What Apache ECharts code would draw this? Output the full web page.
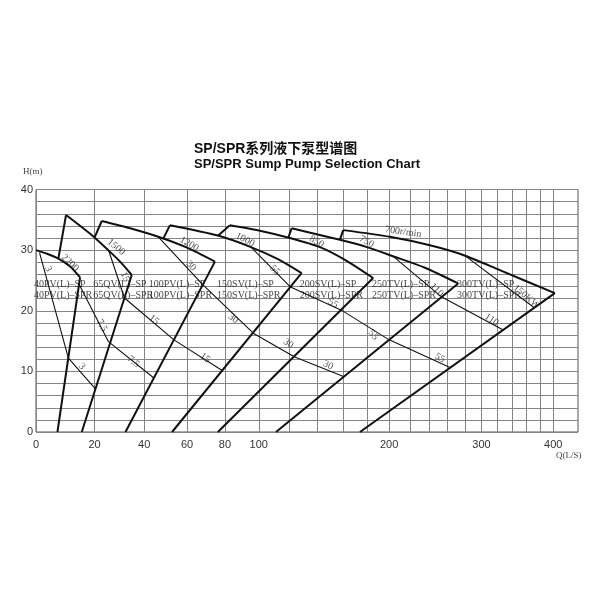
<!DOCTYPE html>
<html lang="zh-CN">
<head>
<meta charset="UTF-8">
<title>SP/SPR系列液下泵型谱图</title>
<style>html,body{margin:0;padding:0;background:#fff;}</style>
</head>
<body>
<div id="main" style="width:600px;height:600px;"></div>
<script src="https://cdn.jsdelivr.net/npm/echarts@6/dist/echarts.min.js"></script>
<script>
// Q 轴不是等距的，大致按 ln(1+Q/100) 排布，先换算再交给数值轴
function tq(q) { return Math.log(1 + q / 100); }
function qt(v) { return 100 * (Math.exp(v) - 1); }

var xGrid = [0,20,40,60,80,100,120,140,160,180,200,220,240,260,280,300,320,340,360,380,400];
var xLabels = [0,20,40,60,80,100,200,300,400];
var yLabels = [0,10,20,30,40];

// 各型号最高转速下的 H-Q 曲线 [Q(L/S), H(m)]
var curve40PV  = [[0,30],[3.5,29.4],[7.2,28.6],[11.2,27.3],[14.7,25.5]];
var curve65QV  = [[9.8,35.8],[18.9,32.5],[25.2,30],[29.9,28.1],[34.7,25.9]];
var curve100PV = [[22.7,34.8],[34,33.6],[46.3,32.2],[60,30.4],[74.5,28.1]];
var curve150SV = [[51.7,34.1],[76.1,32.4],[95.2,30.5],[112.3,28.5],[128.5,26.2]];
var curve200SV = [[82.8,34.1],[100.7,33.2],[120.3,32],[141.9,30.5],[161.5,28.4],[185.5,25.4]];
var curve250TV = [[121.5,33.6],[157.4,31.7],[180,30.5],[203.6,29],[235.4,27.1],[272,24.5]];
var curve300TV = [[160.1,33.3],[200.7,32.2],[240.6,30.8],[277.8,29.2],[323.4,26.7],[402.4,22.9]];

// 左边界（从前一型号曲线到本型号顶点）
var left65QV  = [[7.2,28.6],[9.8,35.8]];
var left100PV = [[20,32.1],[22.7,34.8]];
var left150SV = [[48.6,31.9],[51.7,34.1]];
var left200SV = [[76.3,32.4],[82.8,34.1]];
var left250TV = [[119.2,32],[121.5,33.6]];
var left300TV = [[157.4,31.7],[160.1,33.3]];

// 右边界（到 H=0）
var right40PV  = [[14.7,25.5],[6.9,0]];
var right65QV  = [[34.7,25.9],[15.3,0]];
var right100PV = [[74.5,28.1],[32.1,0]];
var right150SV = [[128.5,26.2],[52.7,0]];
var right200SV = [[185.5,25.4],[76.1,0]];
var right250TV = [[272,24.5],[111,0]];
var right300TV = [[402.4,22.9],[174,0]];

// 电机功率线 kW
var kw3   = [[1.1,29.6],[10.6,12.2],[20.3,7.1]];
var kw7_5 = [[14.3,24.4],[25.3,14.9],[44.3,8.9]];
var kw15  = [[25.4,29.9],[31.7,22.1],[53.6,15.2],[78.7,10.1]];
var kw30  = [[46.3,32.2],[68,24.3],[96.6,16.3],[123.3,12.4],[160.8,9.1]];
var kw55  = [[95.2,30.5],[120.8,23.9],[158.6,20.1],[200.1,15.2],[263.3,10.6]];
var kw110 = [[203.6,29],[253.1,22.3],[328.5,16.8]];
var kw150 = [[279.8,29.1],[371.4,20.5]];

// 曲线上的文字：[文字, Q, H, 旋转角]
var lineNotes = [
    ['2200', 11.2, 27.9, -42], ['1500', 28.3, 30.5, -40], ['1200', 61.1, 31.0, -30],
    ['1000', 91.6, 31.7, -28], ['850', 139.4, 31.4, -30], ['750', 179.7, 31.4, -30],
    ['700r/min', 213.5, 33.0, -8],
    ['3', 3.9, 26.9, -65], ['3', 15.3, 10.8, -50],
    ['15', 31.9, 25.6, -65], ['7.5', 22.7, 17.6, -62], ['7.5', 35.4, 11.6, -40],
    ['15', 44.3, 18.5, -40], ['15', 69.2, 12.2, -35],
    ['30', 62.0, 27.4, -45], ['30', 84.7, 18.7, -38], ['30', 119.2, 14.6, -35], ['30', 148.2, 11.0, -25],
    ['55', 110.3, 26.7, -45], ['55', 152.1, 21.2, -30], ['55', 185.5, 16.0, -50], ['55', 251.4, 12.2, -30],
    ['110', 247.8, 23.4, -45], ['110', 312.7, 18.5, -35], ['150KW', 360.1, 22.3, -40]
];

// 型号名称
var models = ['40PV', '65QV', '100PV', '150SV', '200SV', '250TV', '300TV'];
var modelQ = [-0.8, 19.3, 41.8, 75.4, 126.8, 184.1, 270.1];
var rowSP = 24.4, rowSPR = 22.6;

var myChart = echarts.init(document.getElementById('main'));

function toXY(arr) {
    return arr.map(function (p) { return [tq(p[0]), p[1]]; });
}
function line(arr, w, smooth) {
    return {
        type: 'line', data: toXY(arr), symbol: 'none', silent: true,
        smooth: smooth ? 0.25 : false,
        lineStyle: { color: '#111', width: w }
    };
}

var series = [];
[curve40PV, curve65QV, curve100PV, curve150SV, curve200SV, curve250TV, curve300TV].forEach(function (c) {
    series.push(line(c, 2, true));
});
[left65QV, left100PV, left150SV, left200SV, left250TV, left300TV,
 right40PV, right65QV, right100PV, right150SV, right200SV, right250TV, right300TV].forEach(function (c) {
    series.push(line(c, 2, false));
});
[kw3, kw7_5, kw15, kw30, kw55, kw110, kw150].forEach(function (c) {
    series.push(line(c, 1.1, false));
});

// 旋转的小字
series.push({
    type: 'scatter', silent: true, clip: false, symbolSize: 1,
    itemStyle: { color: 'rgba(0,0,0,0)' },
    data: lineNotes.map(function (n) {
        return {
            value: [tq(n[1]), n[2]],
            label: { show: true, formatter: n[0], rotate: n[3], position: 'inside' }
        };
    }),
    label: { color: '#222', fontSize: 10, fontFamily: 'Liberation Serif' }
});

// 型号文字，两行
var modelData = [];
models.forEach(function (m, i) {
    modelData.push({ value: [tq(modelQ[i]), rowSP], label: { formatter: m + '(L)–SP' } });
    modelData.push({ value: [tq(modelQ[i]), rowSPR], label: { formatter: m + '(L)–SPR' } });
});
series.push({
    type: 'scatter', silent: true, clip: false, symbolSize: 1,
    itemStyle: { color: 'rgba(0,0,0,0)' },
    data: modelData,
    label: { show: true, position: 'right', distance: 0, color: '#111', fontSize: 10, fontFamily: 'Liberation Serif' }
});

myChart.setOption({
    animation: false,
    backgroundColor: '#fff',
    title: [
        { text: 'SP/SPR系列液下泵型谱图', left: 189, top: 137,
          textStyle: { fontSize: 14, fontWeight: 'bold', color: '#111', fontFamily: 'Liberation Sans, Noto Sans CJK SC' } },
        { text: 'SP/SPR Sump Pump Selection Chart', left: 189, top: 153,
          textStyle: { fontSize: 13, fontWeight: 'bold', color: '#111', fontFamily: 'Liberation Sans' } }
    ],
    graphic: [
        { type: 'text', left: 23, top: 167, style: { text: 'H(m)', font: '9px "Liberation Serif"', fill: '#444' } },
        { type: 'text', left: 556, top: 451, style: { text: 'Q(L/S)', font: '9px "Liberation Serif"', fill: '#444' } }
    ],
    grid: { left: 36, right: 22, top: 189.5, bottom: 168, show: true, borderColor: '#555', borderWidth: 1 },
    xAxis: {
        type: 'value', min: 0, max: tq(440),
        axisLine: { show: false },
        axisTick: { show: false, customValues: xGrid.map(tq) },
        splitLine: { show: true, lineStyle: { color: '#858585', width: 1 } },
        axisLabel: {
            customValues: xLabels.map(tq),
            formatter: function (v) { return Math.round(qt(v)); },
            color: '#333', fontSize: 11, margin: 7, fontFamily: 'Liberation Sans'
        }
    },
    yAxis: {
        type: 'value', min: 0, max: 40, interval: 2,
        axisLine: { show: false },
        axisTick: { show: false },
        splitLine: { show: true, lineStyle: { color: '#858585', width: 1 } },
        axisLabel: {
            customValues: yLabels,
            color: '#333', fontSize: 11, margin: 3, fontFamily: 'Liberation Sans'
        }
    },
    series: series
});
</script>
</body>
</html>
